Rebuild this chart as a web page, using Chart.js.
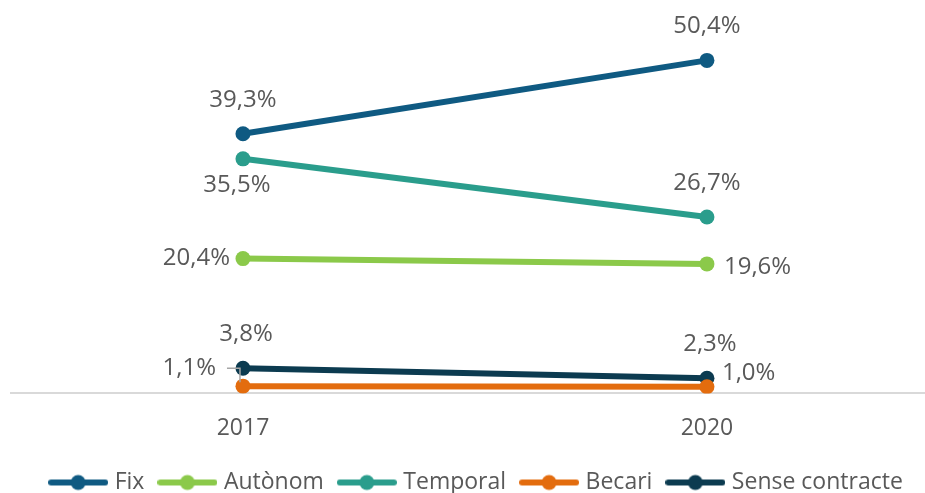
<!DOCTYPE html>
<html>
<head>
<meta charset="utf-8">
<script src="https://cdn.jsdelivr.net/npm/chart.js@4"></script>
<style>
  html, body { margin: 0; padding: 0; background: #fff; overflow: hidden; }
  canvas { display: block; }
</style>
</head>
<body>
<canvas id="lineChart" width="925" height="493"></canvas>
<script>
// years on the x axis
const years = ['2017', '2020'];

// share of each contract type (%)
const fix = [39.3, 50.4];
const autonom = [20.4, 19.6];
const temporal = [35.5, 26.7];
const becari = [1.1, 1.0];
const senseContracte = [3.8, 2.3];

// where each value label sits relative to its point
const labelSpots = {
  Fix: ['above', 'above'],
  'Autònom': ['left', 'right'],
  Temporal: ['below', 'above'],
  Becari: ['leader', 'rightUp'],
  'Sense contracte': ['aboveRight', 'aboveRight']
};

const textColor = '#595959';
const baseFont = 'Open Sans';

// legend marker: a short thick line with a dot in the middle
function legendMarker(color) {
  const c = document.createElement('canvas');
  c.width = 60;
  c.height = 18;
  const g = c.getContext('2d');
  g.strokeStyle = color;
  g.lineWidth = 6;
  g.lineCap = 'round';
  g.beginPath();
  g.moveTo(3, 9);
  g.lineTo(57, 9);
  g.stroke();
  g.fillStyle = color;
  g.beginPath();
  g.arc(30, 9, 7.5, 0, Math.PI * 2);
  g.fill();
  return c;
}

function series(label, values, color) {
  return {
    label: label,
    data: values.map((v, i) => ({ x: i, y: v })),
    borderColor: color,
    backgroundColor: color,
    borderWidth: 6,
    pointRadius: 7.5,
    pointHoverRadius: 7.5,
    pointBorderWidth: 0,
    tension: 0,
    marker: legendMarker(color)
  };
}

const fmt = v => v.toFixed(1).replace('.', ',') + '%';

// value labels drawn next to the points
const valueLabels = {
  id: 'valueLabels',
  afterDatasetsDraw(chart) {
    const ctx = chart.ctx;
    ctx.save();
    ctx.font = '24px "' + baseFont + '"';
    ctx.fillStyle = textColor;
    ctx.textBaseline = 'middle';
    chart.data.datasets.forEach((ds, di) => {
      const meta = chart.getDatasetMeta(di);
      const spots = labelSpots[ds.label];
      meta.data.forEach((pt, i) => {
        const txt = fmt(ds.data[i].y);
        const spot = spots[i];
        let x = pt.x, y = pt.y;
        if (spot === 'above') {
          ctx.textAlign = 'center';
          y -= 34;
        } else if (spot === 'aboveRight') {
          ctx.textAlign = 'center';
          x += 3;
          y -= 34;
        } else if (spot === 'below') {
          ctx.textAlign = 'center';
          x -= 6;
          y += 26;
        } else if (spot === 'left') {
          ctx.textAlign = 'right';
          x -= 13;
        } else if (spot === 'right') {
          ctx.textAlign = 'left';
          x += 17;
          y += 3;
        } else if (spot === 'rightUp') {
          ctx.textAlign = 'left';
          x += 15;
          y -= 14;
        } else if (spot === 'leader') {
          ctx.textAlign = 'right';
          ctx.strokeStyle = '#a6a6a6';
          ctx.lineWidth = 1.5;
          ctx.beginPath();
          ctx.moveTo(x - 16, y - 18);
          ctx.lineTo(x - 3, y - 18);
          ctx.lineTo(x - 3, y - 4);
          ctx.stroke();
          x -= 27;
          y -= 18;
        }
        ctx.fillText(txt, x, y);
      });
    });
    ctx.restore();
  }
};

// nudge the legend a little to the right, as in the original
const legendShift = {
  id: 'legendShift',
  afterLayout(chart) {
    chart.legend.left += 10;
    chart.legend.right += 10;
  }
};

const chart = new Chart(document.getElementById('lineChart').getContext('2d'), {
  type: 'line',
  data: {
    datasets: [
      series('Fix', fix, '#0f5a82'),
      series('Autònom', autonom, '#8bc94a'),
      series('Temporal', temporal, '#2a9d8c'),
      series('Becari', becari, '#e36c0e'),
      series('Sense contracte', senseContracte, '#0c3b50')
    ]
  },
  options: {
    responsive: false,
    animation: false,
    events: [],
    layout: {
      autoPadding: false,
      padding: { top: 30, left: 11, right: 0, bottom: -11 }
    },
    scales: {
      x: {
        type: 'linear',
        min: -0.5,
        max: 1.47,
        grid: { display: false, drawTicks: false },
        border: { display: true, color: '#d9d9d9', width: 2 },
        afterBuildTicks: axis => {
          axis.ticks = years.map((_, i) => ({ value: i }));
        },
        afterFit: axis => {
          axis.height -= 10;
        },
        ticks: {
          padding: 21,
          color: textColor,
          font: { family: baseFont, size: 23 },
          maxRotation: 0,
          callback: v => years[v] ?? ''
        }
      },
      y: {
        display: false,
        min: 0,
        max: 55
      }
    },
    plugins: {
      tooltip: { enabled: false },
      legend: {
        position: 'bottom',
        labels: {
          color: textColor,
          font: { family: baseFont, size: 23, lineHeight: 1 },
          usePointStyle: true,
          pointStyleWidth: 50,
          padding: 18,
          generateLabels: ch => ch.data.datasets.map((ds, i) => ({
            text: ds.label,
            pointStyle: ds.marker,
            fillStyle: ds.borderColor,
            strokeStyle: ds.borderColor,
            lineWidth: 0,
            fontColor: textColor,
            hidden: false,
            datasetIndex: i
          }))
        }
      }
    }
  },
  plugins: [valueLabels, legendShift]
});
</script>
</body>
</html>
